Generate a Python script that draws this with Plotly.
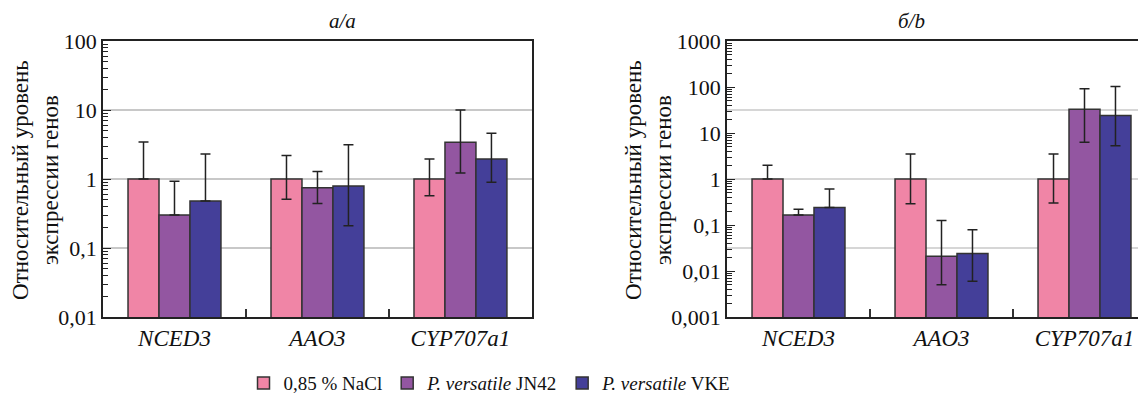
import plotly.graph_objects as go

genes = ["NCED3", "AAO3", "CYP707a1"]
gene_labels = ["<i>NCED3</i>", "<i>AAO3</i>", "<i>CYP707a1</i>"]
series_names = ["0,85 % NaCl", "<i>P. versatile</i> JN42", "<i>P. versatile</i> VKE"]
colors = ["#F085A6", "#9356A1", "#443F99"]

# Panel a: values, upper and lower whisker ends
a_nacl = [1.0, 1.0, 1.0]
a_nacl_hi = [3.45, 2.2, 1.95]
a_nacl_lo = [1.0, 0.51, 0.57]
a_jn42 = [0.30, 0.75, 3.4]
a_jn42_hi = [0.93, 1.28, 10.0]
a_jn42_lo = [0.30, 0.44, 1.22]
a_vke = [0.48, 0.79, 1.95]
a_vke_hi = [2.3, 3.15, 4.6]
a_vke_lo = [0.48, 0.21, 0.90]

# Panel b
b_nacl = [1.0, 1.0, 1.0]
b_nacl_hi = [2.0, 3.5, 3.5]
b_nacl_lo = [1.0, 0.29, 0.30]
b_jn42 = [0.165, 0.021, 33.0]
b_jn42_hi = [0.22, 0.125, 92.0]
b_jn42_lo = [0.165, 0.005, 6.3]
b_vke = [0.24, 0.024, 24.0]
b_vke_hi = [0.61, 0.079, 103.0]
b_vke_lo = [0.24, 0.006, 5.3]

a_tickvals = [0.01, 0.1, 1, 10, 100]
a_ticktext = ["0,01", "0,1", "1", "10", "100"]
b_tickvals = [0.001, 0.01, 0.1, 1, 10, 100, 1000]
b_ticktext = ["0,001", "0,01", "0,1", "1", "10", "100", "1000"]
b_gridlines = [10 ** -1.5, 1, 10 ** 1.5]

ytitle = "Относительный уровень<br>экспрессии генов"

FONT = "Liberation Serif, Times New Roman, serif"

fig = go.Figure()

panels = [
    ("x", "y", [(a_nacl, a_nacl_hi, a_nacl_lo), (a_jn42, a_jn42_hi, a_jn42_lo), (a_vke, a_vke_hi, a_vke_lo)], True),
    ("x2", "y2", [(b_nacl, b_nacl_hi, b_nacl_lo), (b_jn42, b_jn42_hi, b_jn42_lo), (b_vke, b_vke_hi, b_vke_lo)], False),
]
for xa, ya, data, show in panels:
    for i, (vals, hi, lo) in enumerate(data):
        plus = [h - v for h, v in zip(hi, vals)]
        minus = [v - l for v, l in zip(vals, lo)]
        fig.add_trace(go.Bar(
            x=gene_labels, y=vals, name=series_names[i], xaxis=xa, yaxis=ya,
            marker=dict(color=colors[i], line=dict(color="#333333", width=1.5)),
            error_y=dict(type="data", symmetric=False, array=plus, arrayminus=minus,
                         color="#222222", thickness=1.5, width=5),
            showlegend=show, legendgroup=str(i),
        ))

axis_common = dict(showline=True, linecolor="#222222", linewidth=1.5, automargin=False)
ytick_font = dict(family=FONT, size=22, color="#111")
xtick_font = dict(family=FONT, size=23, color="#111")

# the page body adds an 8px offset, so domains are set 8px up/left of the target
fig.update_layout(
    width=1146, height=394,
    margin=dict(l=0, r=0, t=0, b=0, autoexpand=False),
    paper_bgcolor="white", plot_bgcolor="white",
    barmode="group", bargap=0.35, bargroupgap=0,
    font=dict(family=FONT, color="#111"),
    xaxis=dict(domain=[0.0829, 0.4572], anchor="y", range=[-0.5, 2.5],
               ticks="inside", ticklen=8, tickcolor="#333", tickwidth=1.5,
               tickson="boundaries", mirror=True, tickfont=xtick_font, **axis_common),
    yaxis=dict(domain=[0.2157, 0.9162], anchor="x", type="log", range=[-2, 2],
               tickvals=a_tickvals, ticktext=a_ticktext, tickfont=ytick_font,
               ticks="inside", ticklen=8, tickcolor="#222", tickwidth=1.2,
               minor=dict(ticks="inside", ticklen=5, tickcolor="#222", tickwidth=1, dtick="D1", showgrid=False),
               showgrid=True, gridcolor="#c8c8c8", gridwidth=1.5, mirror=True,
               **axis_common),
    xaxis2=dict(domain=[0.6274, 1.0], anchor="y2", range=[-0.5, 2.486],
                ticks="inside", ticklen=8, tickcolor="#333", tickwidth=1.5,
                tickson="boundaries", mirror=True, tickfont=xtick_font, **axis_common),
    yaxis2=dict(domain=[0.2157, 0.9162], anchor="x2", type="log", range=[-3, 3],
                tickvals=b_tickvals, ticktext=b_ticktext, tickfont=ytick_font,
                ticks="inside", ticklen=8, tickcolor="#222", tickwidth=1.2,
                minor=dict(ticks="inside", ticklen=5, tickcolor="#222", tickwidth=1, dtick="D1", showgrid=False),
                showgrid=False, **axis_common),
    legend=dict(orientation="h", x=0.4206, xanchor="center", y=0.048, yanchor="middle",
                font=dict(family=FONT, size=19, color="#111"), traceorder="normal",
                itemwidth=30, tracegroupgap=0),
)

for g in b_gridlines:
    fig.add_shape(type="line", xref="x2 domain", yref="y2", x0=0, x1=1, y0=g, y1=g,
                  line=dict(color="#c8c8c8", width=1.5), layer="below")

fig.add_annotation(text="<i>а/a</i>", xref="paper", yref="paper", x=0.2784, y=0.967,
                   yanchor="middle", showarrow=False, font=dict(family=FONT, size=21, color="#111"))
fig.add_annotation(text="<i>б/b</i>", xref="paper", yref="paper", x=0.8019, y=0.967,
                   yanchor="middle", showarrow=False, font=dict(family=FONT, size=21, color="#111"))
for xp in [28 / 1146, 641 / 1146]:
    fig.add_annotation(text=ytitle, xref="paper", yref="paper", x=xp, y=0.5635,
                       textangle=-90, showarrow=False, xanchor="center", yanchor="middle",
                       font=dict(family=FONT, size=23, color="#111"))

fig.write_html("out.html")
